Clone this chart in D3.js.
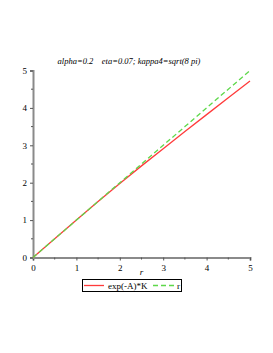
<!DOCTYPE html>
<html>
<head>
<script src="https://d3js.org/d3.v7.min.js"></script>
<style>
  body { margin: 0; background: #fff; }
  svg text { font-family: "Liberation Serif", "DejaVu Serif", serif; fill: #000; }
</style>
</head>
<body>
<div id="chart"></div>
<script>
// data
const rValues   = [0, 0.5, 1, 1.5, 2, 2.5, 3, 3.5, 4, 4.5, 5];
const expAK     = [0, 0.5, 1, 1.495, 1.98, 2.45, 2.91, 3.37, 3.82, 4.27, 4.72];
const rLine     = [0, 0.5, 1, 1.5, 2, 2.5, 3, 3.5, 4, 4.5, 5];
const xTicks    = [0, 1, 2, 3, 4, 5];
const yTicks    = [0, 1, 2, 3, 4, 5];
const minorTicks = [0.5, 1.5, 2.5, 3.5, 4.5];
const titleText = "alpha=0.2    eta=0.07; kappa4=sqrt(8 pi)";

const W = 273, H = 353;
const svg = d3.select("#chart").append("svg")
  .attr("width", W).attr("height", H);

const x = d3.scaleLinear().domain([0, 5]).range([33, 250]);
const y = d3.scaleLinear().domain([0, 5]).range([257.5, 70.5]);

// axes
const xAxis = svg.append("g")
  .attr("transform", `translate(0,${y(0)})`)
  .call(d3.axisBottom(x).tickValues(xTicks).tickSize(3).tickFormat(d3.format("d")));
const yAxis = svg.append("g")
  .attr("transform", `translate(${x(0)},0)`)
  .call(d3.axisLeft(y).tickValues(yTicks).tickSize(3).tickFormat(d3.format("d")));

[xAxis, yAxis].forEach(g => {
  g.attr("font-family", "Liberation Serif");
  g.select(".domain").attr("stroke", "#8a8a8a").attr("stroke-width", 2);
  g.selectAll(".tick line").attr("stroke", "#555");
  g.selectAll(".tick text").attr("font-size", 9);
});
xAxis.selectAll(".tick text").attr("dy", "0.8em");

// minor ticks
svg.append("g").selectAll("line").data(minorTicks).join("line")
  .attr("x1", d => x(d)).attr("x2", d => x(d))
  .attr("y1", y(0)).attr("y2", y(0) + 2)
  .attr("stroke", "#555");
svg.append("g").selectAll("line").data(minorTicks).join("line")
  .attr("x1", x(0) - 2).attr("x2", x(0))
  .attr("y1", d => y(d)).attr("y2", d => y(d))
  .attr("stroke", "#555");

// curves
const line = d3.line().x(d => x(d[0])).y(d => y(d[1]));
svg.append("path")
  .datum(rValues.map((r, i) => [r, expAK[i]]))
  .attr("d", line).attr("fill", "none")
  .attr("stroke", "#ff3b3b").attr("stroke-width", 1.3);
svg.append("path")
  .datum(rValues.map((r, i) => [r, rLine[i]]))
  .attr("d", line).attr("fill", "none")
  .attr("stroke", "#5ed84a").attr("stroke-width", 1.3)
  .attr("stroke-dasharray", "5,3");

// title
svg.append("text")
  .attr("x", 129).attr("y", 64)
  .attr("text-anchor", "middle")
  .attr("font-size", 8.5).attr("font-style", "italic")
  .attr("xml:space", "preserve")
  .text(titleText);

// axis label
svg.append("text")
  .attr("x", x(2.5)).attr("y", 275)
  .attr("text-anchor", "middle")
  .attr("font-size", 9).attr("font-style", "italic")
  .text("r");

// legend
const lg = svg.append("g");
lg.append("rect")
  .attr("x", 82.5).attr("y", 279.5).attr("width", 99).attr("height", 12)
  .attr("fill", "#fff").attr("stroke", "#000").attr("stroke-width", 1);
lg.append("line")
  .attr("x1", 84).attr("x2", 104).attr("y1", 285.5).attr("y2", 285.5)
  .attr("stroke", "#ff3b3b").attr("stroke-width", 1.3);
lg.append("text")
  .attr("x", 108).attr("y", 289).attr("font-size", 9)
  .text("exp(-A)*K");
lg.append("line")
  .attr("x1", 153).attr("x2", 174).attr("y1", 285.5).attr("y2", 285.5)
  .attr("stroke", "#5ed84a").attr("stroke-width", 1.3)
  .attr("stroke-dasharray", "5,3");
lg.append("text")
  .attr("x", 177).attr("y", 289).attr("font-size", 9)
  .text("r");
</script>
</body>
</html>
